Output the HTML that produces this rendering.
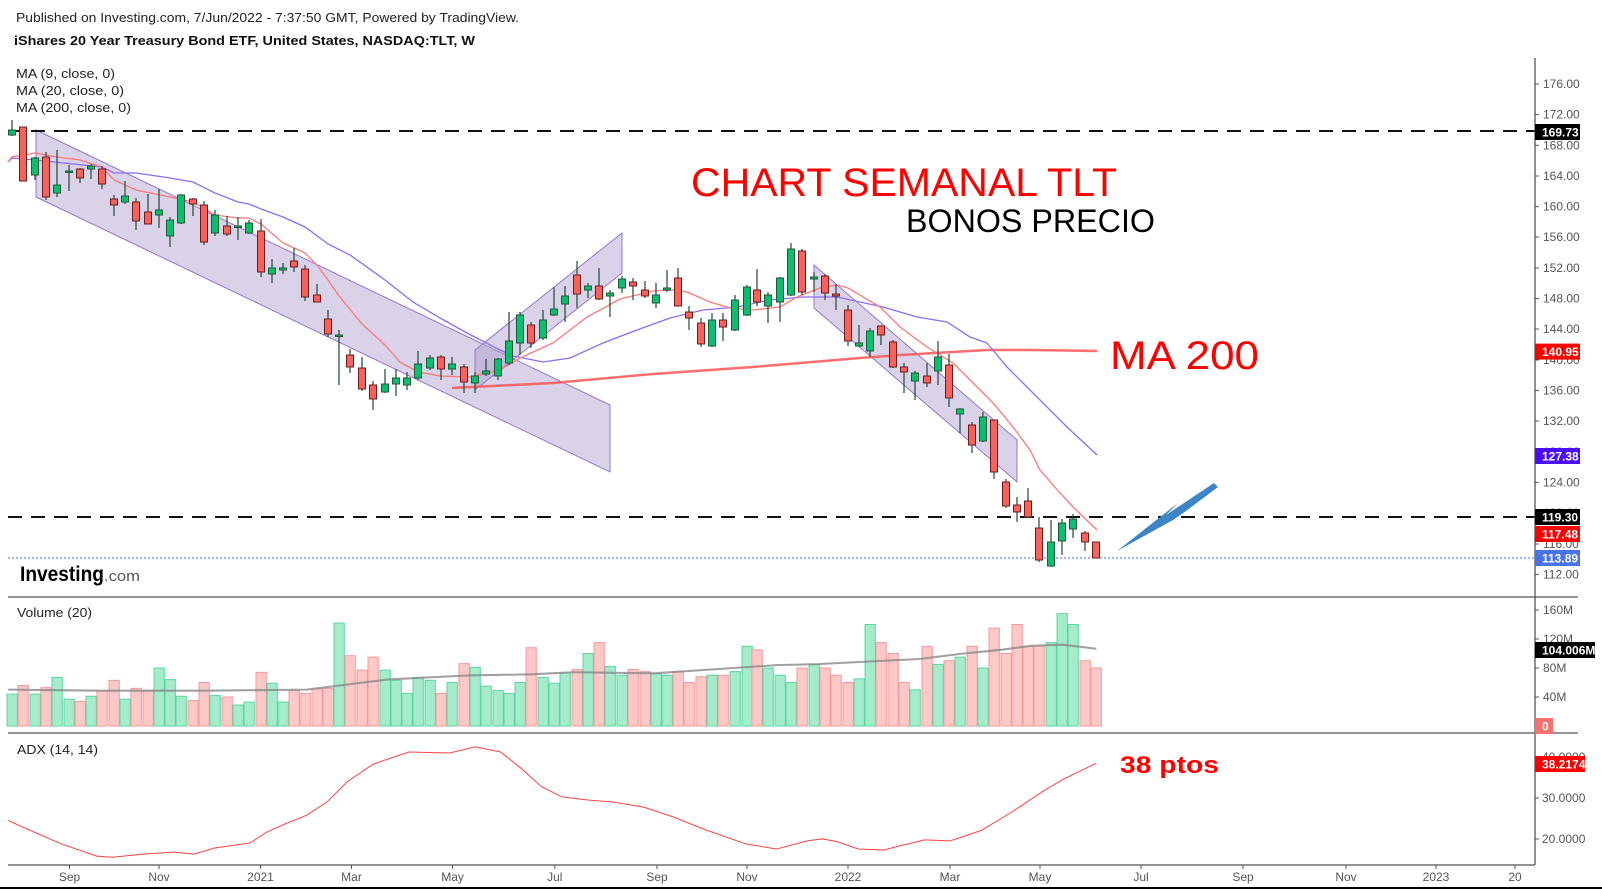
<!DOCTYPE html>
<html><head><meta charset="utf-8"><style>
html,body{margin:0;padding:0;background:#fff;}
body{width:1602px;height:889px;overflow:hidden;position:relative;font-family:"Liberation Sans",Arial,sans-serif;}
svg{position:absolute;left:0;top:0;}
</style></head><body>
<svg id="s" width="1602" height="889" xmlns="http://www.w3.org/2000/svg" font-family="Liberation Sans, Arial, sans-serif">
<rect x="0" y="0" width="1602" height="889" fill="#fff"/>
<text x="16" y="22" font-size="13" fill="#222" textLength="503" lengthAdjust="spacingAndGlyphs">Published on Investing.com, 7/Jun/2022 - 7:37:50 GMT, Powered by TradingView.</text>
<text x="14" y="45" font-size="13" font-weight="bold" fill="#111" textLength="461" lengthAdjust="spacingAndGlyphs">iShares 20  Year Treasury Bond ETF, United States, NASDAQ:TLT, W</text>
<text x="16" y="78" font-size="13" fill="#222" textLength="99" lengthAdjust="spacingAndGlyphs">MA (9, close, 0)</text>
<text x="16" y="95" font-size="13" fill="#222" textLength="108" lengthAdjust="spacingAndGlyphs">MA (20, close, 0)</text>
<text x="16" y="112" font-size="13" fill="#222" textLength="115" lengthAdjust="spacingAndGlyphs">MA (200, close, 0)</text>
<polygon points="36,130 610,405 610,472 36,197" fill="rgba(170,155,205,0.45)" stroke="#9575cd" stroke-width="1"/>
<polygon points="475,350 622,233 622,273 475,390" fill="rgba(170,155,205,0.45)" stroke="#9575cd" stroke-width="1"/>
<polygon points="814,265 1017,440 1017,482 814,308" fill="rgba(170,155,205,0.45)" stroke="#9575cd" stroke-width="1"/>
<line x1="8" y1="131" x2="1535" y2="131" stroke="#111" stroke-width="2" stroke-dasharray="14,9"/>
<line x1="8" y1="517" x2="1535" y2="517" stroke="#111" stroke-width="2" stroke-dasharray="14,9"/>
<line x1="8" y1="558" x2="1535" y2="558" stroke="#3d6bea" stroke-width="1" stroke-dasharray="2,2"/>
<polyline fill="none" stroke="#f55" stroke-width="2.5" stroke-opacity="0.85" points="452,388 553,383 653,374 753,367 800,363 860,358 900,355 987,350 1033,350 1097,351"/>
<polyline fill="none" stroke="#8c6cf7" stroke-width="1.3" points="8,162 12,158 35,160 102,167 114,173 136,173 170,178 193,182 215,193 238,202 249,204 261,209 283,217 305,227 328,244 350,255 385,280 413,302 440,318 467,333 500,350 513,356 543,362 570,358 603,343 637,330 670,318 703,310 737,307 770,300 803,297 837,297 883,307 917,317 947,322 970,337 987,343 1007,367 1027,387 1047,407 1067,427 1097,455"/>
<polyline fill="none" stroke="#f77" stroke-width="1.3" points="8,162 12,157 35,153 57,157 80,160 102,167 114,180 136,190 170,197 193,202 215,215 238,218 249,218 261,224 283,243 305,253 317,265 328,280 339,296 362,324 385,345 400,362 418,372 440,376 470,377 500,370 520,358 553,343 587,317 620,299 653,291 673,290 687,292 710,302 730,308 753,310 780,307 797,297 820,288 837,285 848,288 880,307 900,327 927,347 953,363 973,383 993,403 1013,427 1030,450 1040,470 1060,493 1073,507 1097,530"/>
<g id="candles"></g>
<text x="691" y="196" font-size="40" fill="#f00" textLength="426" lengthAdjust="spacingAndGlyphs">CHART SEMANAL TLT</text>
<text x="906" y="232" font-size="32" fill="#000" textLength="249" lengthAdjust="spacingAndGlyphs">BONOS PRECIO</text>
<text x="1110" y="369" font-size="40" fill="#f00" textLength="149" lengthAdjust="spacingAndGlyphs">MA 200</text>
<text x="1120" y="773" font-size="24" font-weight="bold" fill="#f00" textLength="99" lengthAdjust="spacingAndGlyphs">38 ptos</text>
<path d="M1117,551 L1178,503 L1166,515 L1214,483 L1218,487 L1186,511 L1173,520 Z" fill="#3d85c6"/>
<text x="20" y="581" font-size="21" font-weight="bold" fill="#000" textLength="84" lengthAdjust="spacingAndGlyphs">Investing</text><text x="104" y="581" font-size="15" fill="#555" textLength="36" lengthAdjust="spacingAndGlyphs">.com</text>
<line x1="8" y1="597" x2="1578" y2="597" stroke="#555" stroke-width="1.3"/>
<line x1="8" y1="733" x2="1578" y2="733" stroke="#555" stroke-width="1.3"/>
<line x1="8" y1="865" x2="1535" y2="865" stroke="#555" stroke-width="1.3"/>
<line x1="1535" y1="58" x2="1535" y2="865" stroke="#555" stroke-width="1.3"/>
<text x="17" y="617" font-size="13" fill="#222" textLength="75" lengthAdjust="spacingAndGlyphs">Volume (20)</text>
<text x="17" y="754" font-size="13" fill="#222" textLength="81" lengthAdjust="spacingAndGlyphs">ADX (14, 14)</text>
<g id="vol"></g>
<g transform="scale(1.0217)">
<polyline fill="none" stroke="#888" stroke-width="2" stroke-opacity="0.8" points="8,675 100,676 200,676 300,675 340,670 380,665 420,663 460,661 520,660 560,658 640,659 700,655 760,651 800,650 860,647 900,645 940,640 980,636 1010,632 1040,631 1073,635"/>
<polyline fill="none" stroke="#f44" stroke-width="1" points="8,803 30,813 60,826 95,838 110,839 140,836 170,834 190,836 210,830 245,825 260,815 280,806 300,798 320,785 340,765 365,748 400,736 440,737 465,731 490,736 510,752 530,770 550,780 575,783 600,785 630,790 660,800 690,812 730,826 760,831 790,823 805,821 820,824 840,831 865,832 880,828 905,822 930,823 960,813 990,795 1020,775 1040,763 1073,747"/>
</g>
<g id="axis" font-size="12" fill="#555"></g>
<rect x="0" y="887" width="1602" height="2" fill="#000"/>
</svg>
<script>
var NS="http://www.w3.org/2000/svg";
function el(t,a,p,txt){var e=document.createElementNS(NS,t);for(var k in a)e.setAttribute(k,a[k]);if(txt!=null)e.textContent=txt;p.appendChild(e);return e;}
var C=[[12,130,135,120,136,1],[23,127,181,127,181,0],[35,158,175,157,180,1],[46,157,197,152,200,0],[57,185,193,150,197,1],[69,171,172,165,191,1],[80,169,178,168,183,0],[91,166,169,164,179,1],[102,169,184,166,189,0],[114,199,205,195,216,0],[125,196,202,181,204,1],[136,202,221,198,230,0],[148,212,224,194,224,0],[159,210,215,189,228,1],[170,220,236,217,247,1],[181,195,223,194,224,1],[193,199,204,198,216,0],[204,205,242,201,245,0],[215,215,233,210,236,1],[227,226,234,216,236,0],[238,226,227,217,240,1],[249,223,233,220,234,1],[261,231,272,219,277,0],[272,268,274,259,283,1],[283,268,270,263,274,1],[294,261,267,248,272,0],[305,269,297,265,301,0],[317,295,302,284,302,0],[328,319,334,310,337,0],[339,335,336,330,385,1],[350,355,367,349,373,0],[362,368,389,357,391,0],[373,385,399,381,410,0],[385,384,392,369,393,1],[396,378,384,369,396,1],[407,378,385,372,390,1],[418,364,378,351,380,1],[430,358,368,355,370,1],[441,357,369,355,380,0],[452,364,369,357,375,1],[464,367,382,364,393,0],[475,376,383,372,393,1],[486,371,374,359,376,1],[498,359,376,358,380,1],[509,341,363,312,365,1],[520,315,343,312,355,1],[531,325,343,322,348,0],[543,320,338,310,340,1],[554,309,315,287,316,1],[565,296,304,286,322,1],[577,275,294,261,308,0],[588,286,290,283,298,1],[599,286,299,268,300,0],[610,293,296,290,317,1],[622,279,288,276,293,1],[633,282,286,278,300,0],[645,290,296,281,298,0],[656,295,303,283,308,1],[667,288,290,270,292,1],[678,278,306,268,306,0],[689,312,318,306,330,0],[701,323,344,318,347,0],[712,320,346,313,347,1],[723,320,327,313,341,0],[735,300,330,295,331,1],[747,287,315,285,316,1],[757,290,302,269,306,0],[768,295,306,292,323,1],[780,278,302,277,322,1],[791,249,295,243,296,1],[802,251,292,249,295,0],[814,277,279,272,292,1],[825,276,293,274,300,0],[836,294,296,284,310,0],[848,310,341,305,346,0],[859,343,346,325,347,1],[870,331,351,328,357,1],[881,326,335,326,345,0],[893,342,367,340,368,0],[904,367,372,363,393,0],[915,373,381,371,400,1],[927,376,383,363,387,0],[938,357,371,341,385,1],[949,365,398,354,407,0],[960,409,414,408,433,1],[972,425,445,422,453,0],[983,417,441,412,442,1],[994,420,472,420,479,0],[1006,482,506,479,508,0],[1017,505,512,497,522,0],[1028,501,517,488,518,0],[1039,528,560,517,562,0],[1051,542,566,520,567,1],[1062,523,541,519,555,1],[1073,519,529,514,538,1],[1085,533,542,531,551,0],[1096,542,558,542,558,0]];
var V=[44,56,44,53,67,37,34,41,48,63,37,52,49,80,64,41,35,60,42,40,29,33,74,59,33,49,45,51,52,142,97,77,95,77,63,45,67,63,45,60,86,81,55,49,45,60,108,67,59,73,78,100,115,82,70,78,75,72,70,75,60,68,70,70,75,110,105,80,70,60,80,85,80,70,60,65,140,115,100,60,50,110,85,90,95,110,80,135,100,140,110,110,115,155,140,90,80,68];
var cg=document.getElementById('candles'),vg=document.getElementById('vol');
C.forEach(function(c,i){
 var g=c[5];
 el('line',{x1:c[0],y1:c[3],x2:c[0],y2:c[4],stroke:'#1d4a30','stroke-width':1.2},cg);
 var h=Math.max(1.5,c[2]-c[1]);
 el('rect',{x:c[0]-3.5,y:c[1],width:7,height:h,fill:g?'#0bbf6e':'#f7625c',stroke:g?'#1d5a3a':'#6b1c1c','stroke-width':1},cg);
 if(i<V.length){var vh=V[i]*29/40;
 el('rect',{x:c[0]-5,y:726-vh,width:10.3,height:vh,fill:g?'#a6ebcc':'#fdc8c8',stroke:g?'#5bd6a0':'#f59a9a','stroke-width':1},vg);}
});
var ax=document.getElementById('axis');
var P=[[176,84],[172,114.6],[168,145.3],[164,176],[160,206.6],[156,237],[152,268],[148,298.5],[144,329],[140,360],[136,390.5],[132,421],[128,452],[124,482.4],[120,513],[116,544],[112,574.4]];
P.forEach(function(p){el('line',{x1:1535,y1:p[1],x2:1539,y2:p[1],stroke:'#555'},ax);el('text',{x:1543,y:p[1]+4},ax,p[0].toFixed(2));});
[["160M",610],["120M",639],["80M",668],["40M",697]].forEach(function(p){el('line',{x1:1535,y1:p[1],x2:1539,y2:p[1],stroke:'#555'},ax);el('text',{x:1543,y:p[1]+4},ax,p[0]);});
[["40.0000",757],["30.0000",798],["20.0000",839]].forEach(function(p){el('line',{x1:1535,y1:p[1],x2:1539,y2:p[1],stroke:'#555'},ax);el('text',{x:1542,y:p[1]+4},ax,p[0]);});
[["Sep",69.5],["Nov",159],["2021",260.5],["Mar",351.5],["May",452.6],["Jul",554.8],["Sep",657],["Nov",747],["2022",848],["Mar",950],["May",1040],["Jul",1141],["Sep",1243],["Nov",1346],["2023",1436],["20",1515]].forEach(function(p){el('line',{x1:p[1],y1:865,x2:p[1],y2:869,stroke:'#555'},ax);el('text',{x:p[1],y:881,'text-anchor':'middle'},ax,p[0]);});
var T=[["169.73",132,"#000",45],["140.95",351.6,"#f00",45],["127.38",456,"#4b0cff",45],["119.30",517,"#000",45],["117.48",534,"#f00",45],["113.89",558,"#4a73e8",45],["104.006M",650,"#000",60],["0",726,"#f87070",18],["38.2174",764,"#f00",50]];
T.forEach(function(t){el('rect',{x:1535,y:t[1]-8,width:t[3],height:16,fill:t[2]},ax);el('text',{x:1542,y:t[1]+4.5,fill:'#fff','font-weight':'bold'},ax,t[0]);});
</script>
</body></html>
